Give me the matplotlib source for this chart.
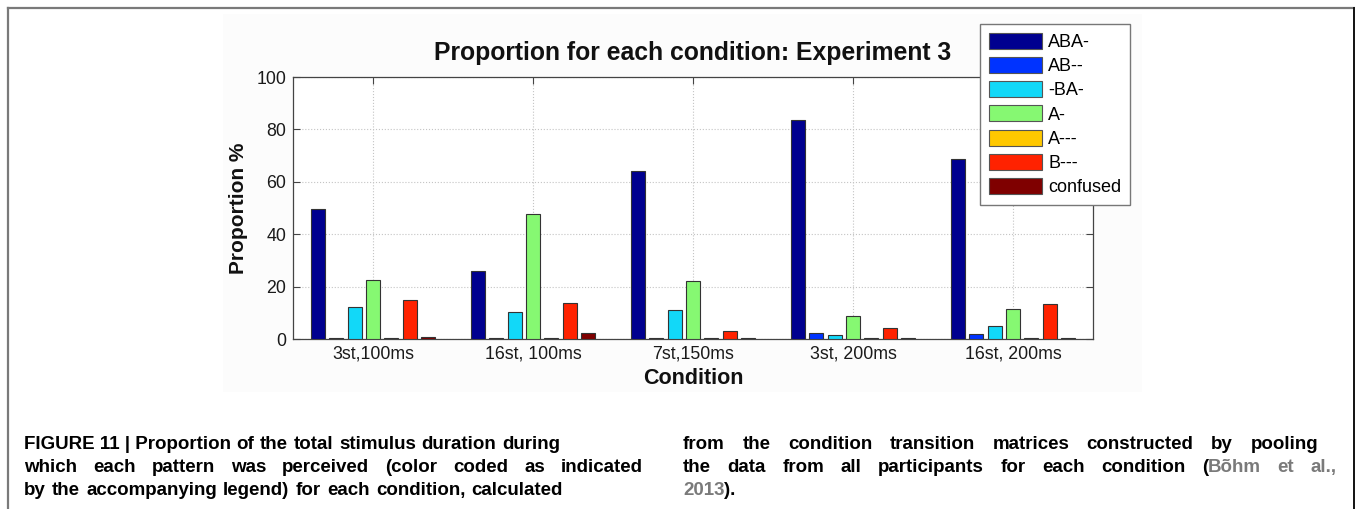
import matplotlib
matplotlib.use('Agg')
import matplotlib.pyplot as plt
from matplotlib.lines import Line2D
from matplotlib.patches import Rectangle, Patch
from matplotlib import font_manager as fm

# ---------------- data ----------------
conditions = ["3st,100ms", "16st, 100ms", "7st,150ms", "3st, 200ms", "16st, 200ms"]
patterns = ["ABA-", "AB--", "-BA-", "A-", "A---", "B---", "confused"]
aba = [49.7, 26.1, 64.2, 83.5, 68.7]
ab = [0.3, 0.2, 0.3, 2.4, 1.9]
ba = [12.3, 10.3, 11.0, 1.5, 4.9]
a_ = [22.5, 47.7, 22.2, 8.9, 11.5]
a3 = [0.2, 0.2, 0.2, 0.2, 0.2]
b3 = [14.7, 13.8, 2.9, 4.2, 13.4]
confused = [0.9, 2.3, 0.2, 0.2, 0.2]
series = [aba, ab, ba, a_, a3, b3, confused]
colors = ["#00008F", "#0033FF", "#12D8F8", "#86F872", "#FFC800", "#FF2200", "#7F0000"]
yticks = [0, 20, 40, 60, 80, 100]

title = "Proportion for each condition: Experiment 3"
ylabel = "Proportion %"
xlabel = "Condition"

caption_left = [
    "FIGURE 11 | Proportion of the total stimulus duration during",
    "which each pattern was perceived (color coded as indicated",
    "by the accompanying legend) for each condition, calculated",
]
caption_right = [
    "from the condition transition matrices constructed by pooling",
    "the data from all participants for each condition (Bõhm et al.,",
    "2013).",
]

# ---------------- figure ----------------
W, H = 1355, 509
fig = plt.figure(figsize=(W / 100, H / 100), dpi=100)
fig.patch.set_facecolor('white')

def fx(p):
    return p / W

def fy(p):
    return 1 - p / H

# faint background of the embedded chart screenshot
fig.patches.append(Rectangle((fx(223), fy(392)), fx(1142) - fx(223), fy(14) - fy(392),
                             transform=fig.transFigure, facecolor='#fcfcfc',
                             edgecolor='none', zorder=-5))

# outer frame
fig.add_artist(Line2D([fx(8), fx(1355)], [fy(8), fy(8)], transform=fig.transFigure,
                      color='#7a7a7a', lw=1.6))
fig.add_artist(Line2D([fx(8), fx(8)], [fy(8), fy(509)], transform=fig.transFigure,
                      color='#7a7a7a', lw=1.6))
fig.add_artist(Line2D([fx(1354), fx(1354)], [fy(8), fy(509)], transform=fig.transFigure,
                      color='#111111', lw=1.4))

ax = fig.add_axes([fx(293), fy(339), fx(1093) - fx(293), fy(77) - fy(339)])
ax.set_facecolor('white')

n = len(series)
pitch = 0.1146
bw = 0.089
for j, (vals, c, lab) in enumerate(zip(series, colors, patterns)):
    xs = [i + 1 + (j - (n - 1) / 2) * pitch for i in range(len(conditions))]
    ax.bar(xs, vals, width=bw, color=c, edgecolor='#333333', linewidth=0.8,
           label=lab, zorder=3)

ax.set_xlim(0.5, 5.5)
ax.set_ylim(0, 100)
ax.set_xticks(range(1, len(conditions) + 1))
ax.set_xticklabels(conditions, family='Liberation Sans', fontsize=12.8, color='#1a1a1a')
ax.set_yticks(yticks)
ax.set_yticklabels([str(v) for v in yticks], family='Liberation Sans', fontsize=12.8,
                   color='#1a1a1a')
ax.grid(True, linestyle=':', color='#c4c4c4', linewidth=0.8, zorder=0)
ax.set_axisbelow(True)
ax.tick_params(direction='in', top=True, right=True, length=5, width=0.8,
               color='#444444')
ax.tick_params(axis='x', pad=5)
ax.tick_params(axis='y', pad=5)
for s in ax.spines.values():
    s.set_color('#444444')
    s.set_linewidth(0.9)

fig.text(fx(693), fy(53), title, ha='center', va='center', family='Liberation Sans',
         fontsize=17.8, fontweight='bold', color='#111111')
fig.text(fx(238), fy(208), ylabel, ha='center', va='center', rotation=90,
         family='Liberation Sans', fontsize=15, fontweight='bold', color='#111111')
fig.text(fx(693), fy(379), xlabel, ha='center', va='center',
         family='Liberation Sans', fontsize=15.5, fontweight='bold', color='#111111')

handles = [Patch(facecolor=c, edgecolor='#555555', linewidth=0.8) for c in colors]
leg = fig.legend(handles, patterns, loc='upper left',
                 bbox_to_anchor=(fx(980), fy(24)), bbox_transform=fig.transFigure,
                 prop={'family': 'Liberation Sans', 'size': 13},
                 handlelength=2.95, handleheight=1.0, handletextpad=0.35,
                 labelspacing=0.33, borderpad=0.48, borderaxespad=0,
                 fancybox=False, frameon=True, framealpha=1)
leg.get_frame().set_edgecolor('#777777')
leg.get_frame().set_linewidth(1.0)

# ---------------- caption (justified) ----------------
narrow_path = fm.findfont(fm.FontProperties(family='Liberation Sans Narrow', weight='bold'),
                          fallback_to_default=True)
if 'Narrow' in narrow_path:
    cap_font = dict(family='Liberation Sans Narrow', fontsize=14.6, fontweight='bold')
else:
    cap_font = dict(family='Liberation Sans', fontsize=13.5, fontweight='bold')
renderer = fig.canvas.get_renderer()
gray = '#7a7a7a'

def word_segments(word):
    # split a word into (text, colour) pieces for the citation colouring
    if word == "(Bõhm":
        return [("(", 'black'), ("Bõhm", gray)]
    if word in ("et", "al.,"):
        return [(word, gray)]
    if word == "2013).":
        return [("2013", gray), (").", 'black')]
    return [(word, 'black')]

def split_words(line):
    if line.startswith("FIGURE 11 | "):
        rest = line[len("FIGURE 11 | "):].split(" ")
        return ["FIGURE 11 | " + rest[0]] + rest[1:]
    return line.split(" ")

def draw_line(line, x0, x1, yb, justify=True):
    words = split_words(line)
    items = []
    for w in words:
        segs = []
        for t, c in word_segments(w):
            txt = fig.text(0, fy(yb), t, color=c, va='baseline', ha='left', **cap_font)
            wpx = txt.get_window_extent(renderer=renderer).width
            segs.append((txt, wpx))
        items.append(segs)
    widths = [sum(s[1] for s in segs) for segs in items]
    if justify and len(items) > 1:
        gap = max(4.0, (x1 - x0 - sum(widths)) / (len(items) - 1))
    else:
        gap = 4
    x = x0
    for segs, wd in zip(items, widths):
        xx = x
        for txt, wpx in segs:
            txt.set_x(fx(xx))
            xx += wpx
        x += wd + gap

baselines = [449, 472, 495]
left_ends = [560, 643, 563]
right_ends = [1318, 1337, None]
for line, yb, xe in zip(caption_left, baselines, left_ends):
    draw_line(line, 24, xe, yb)
for line, yb, xe in zip(caption_right, baselines, right_ends):
    draw_line(line, 683, xe if xe else 0, yb, justify=xe is not None)

fig.savefig('out.png', dpi=100)
